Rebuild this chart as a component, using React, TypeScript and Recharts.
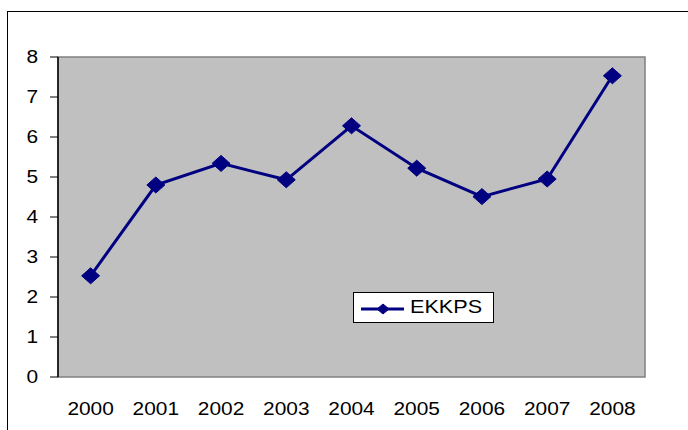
import React from "react";
import {
  LineChart,
  Line,
  XAxis,
  YAxis,
  ReferenceArea,
} from "recharts";

const years = ["2000", "2001", "2002", "2003", "2004", "2005", "2006", "2007", "2008"];
const ekkps = [2.53, 4.8, 5.34, 4.93, 6.28, 5.22, 4.51, 4.95, 7.53];
const yTicks = [0, 1, 2, 3, 4, 5, 6, 7, 8];
const bandEdges = [0, 1, 2, 3, 4, 5, 6, 7, 8, 9];

const NAVY = "#000080";
const FONT = "'Liberation Sans', Arial, sans-serif";
const STRETCH = 1.16;

const data = years.map((year, i) => ({ pos: i + 0.5, year, value: ekkps[i] }));
const labelTicks = years.map((_, i) => i + 0.5);

function Diamond(props: any) {
  const { cx, cy, rx = 9, ry = 8 } = props;
  if (cx == null || cy == null) return null;
  return (
    <polygon
      points={`${cx},${cy - ry} ${cx + rx},${cy} ${cx},${cy + ry} ${cx - rx},${cy}`}
      fill={NAVY}
      stroke={NAVY}
      strokeWidth={1}
    />
  );
}

function YTick(props: any) {
  const { x, y, payload } = props;
  return (
    <text
      transform={`translate(${x},${y}) scale(${STRETCH},1)`}
      textAnchor="end"
      dy="0.36em"
      fontSize={18}
      fontFamily={FONT}
      fill="#000"
    >
      {payload.value}
    </text>
  );
}

function XTick(props: any) {
  const { x, y, payload } = props;
  return (
    <text
      transform={`translate(${x},${y}) scale(${STRETCH},1)`}
      textAnchor="middle"
      dy="0.71em"
      fontSize={18}
      fontFamily={FONT}
      fill="#000"
    >
      {years[Math.floor(payload.value)]}
    </text>
  );
}

function LegendBox() {
  return (
    <div
      style={{
        position: "absolute",
        left: 353,
        top: 292,
        width: 141,
        height: 31,
        boxSizing: "border-box",
        background: "#fff",
        border: "1px solid #000",
        display: "flex",
        alignItems: "center",
      }}
    >
      <svg width={52} height={29} style={{ display: "block" }}>
        <line x1={7} y1={16} x2={50} y2={16} stroke={NAVY} strokeWidth={3} />
        <Diamond cx={29} cy={16} rx={6} ry={5} />
      </svg>
      <span
        style={{
          fontFamily: FONT,
          fontSize: 18,
          color: "#000",
          display: "inline-block",
          transform: `scaleX(${STRETCH + 0.04})`,
          transformOrigin: "left center",
          marginLeft: 4,
        }}
      >
        EKKPS
      </span>
    </div>
  );
}

export default function App() {
  return (
    <div style={{ position: "absolute", left: 0, top: 0, width: 688, height: 430, background: "#fff", overflow: "hidden" }}>
      <div
        style={{
          position: "absolute",
          left: 7,
          top: 11,
          width: 700,
          height: 430,
          borderTop: "1px solid #000",
          borderLeft: "1px solid #000",
        }}
      />
      <div style={{ position: "absolute", left: 0, top: 0 }}>
        <LineChart
          width={688}
          height={430}
          data={data}
          margin={{ top: 57, right: 43, bottom: 23, left: 0 }}
        >
          <ReferenceArea
            y1={0}
            y2={8}
            xAxisId="edges"
            fill="#C0C0C0"
            fillOpacity={1}
            stroke="#808080"
            strokeWidth={1.5}
          />
          <XAxis
            xAxisId="edges"
            type="number"
            dataKey="pos"
            domain={[0, 9]}
            ticks={bandEdges}
            tick={false}
            tickSize={7}
            height={0}
            axisLine={{ stroke: "#000", strokeWidth: 1.5 }}
            tickLine={{ stroke: "#000", strokeWidth: 1 }}
          />
          <XAxis
            xAxisId="labels"
            type="number"
            dataKey="pos"
            domain={[0, 9]}
            ticks={labelTicks}
            tick={<XTick />}
            tickLine={false}
            axisLine={false}
            tickSize={0}
            tickMargin={25}
            height={30}
            interval={0}
          />
          <YAxis
            type="number"
            domain={[0, 8]}
            ticks={yTicks}
            width={58}
            tick={<YTick />}
            tickSize={8}
            tickMargin={12}
            interval={0}
            axisLine={{ stroke: "#000", strokeWidth: 1.5 }}
            tickLine={{ stroke: "#000", strokeWidth: 1 }}
          />
          <Line
            xAxisId="labels"
            type="linear"
            dataKey="value"
            name="EKKPS"
            stroke={NAVY}
            strokeWidth={3}
            dot={<Diamond />}
            activeDot={false}
            isAnimationActive={false}
          />
        </LineChart>
      </div>
      <LegendBox />
    </div>
  );
}
